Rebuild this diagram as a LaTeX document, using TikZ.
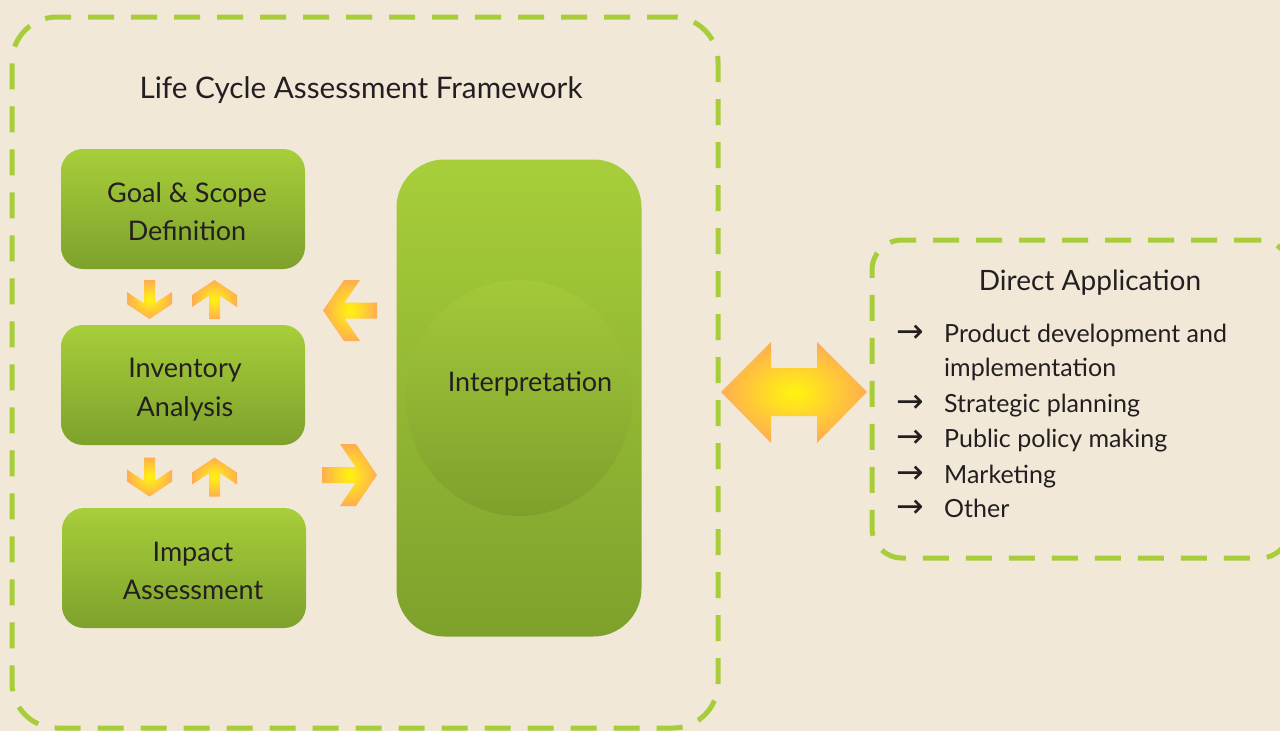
\documentclass[tikz,border=0pt]{standalone}
\usepackage{fontspec}
\setmainfont{Lato}
\newfontfamily\symfont{DejaVu Sans}
\usetikzlibrary{shapes.geometric}
\definecolor{bg}{HTML}{F1E8D8}
\definecolor{dashgreen}{HTML}{A7CE3A}
\definecolor{gtop}{HTML}{A7CE3A}
\definecolor{gbot}{HTML}{7EA12C}
\definecolor{ctop}{HTML}{A3C93A}
\definecolor{cbot}{HTML}{7F9F2C}
\definecolor{txt}{HTML}{231F20}
\definecolor{ayel}{HTML}{FFEF14}
\definecolor{aorg}{HTML}{FFA855}
\pgfdeclareradialshading{glow}{\pgfpoint{0bp}{0bp}}{color(0bp)=(ayel); color(2bp)=(ayel); color(27bp)=(aorg); color(75bp)=(aorg)}
\newcommand\blockarrow[8]{%
  \pgfmathsetmacro\hL{#4/2}%
  \pgfmathsetmacro\hw{#5/2}%
  \pgfmathsetmacro\hs{#6/2}%
  \pgfmathsetmacro\xf{#4/2-#7}%
  \pgfmathsetmacro\xk{#4/2-#7-#8}%
  \pgfmathsetmacro\xb{\xk+(\hw-\hs)*#7/\hw}%
  \begin{scope}[shift={(#1,#2)},rotate=#3]
    \shade[shading=glow] (-\hL,-\hs) -- (\xb,-\hs) -- (\xk,-\hw) -- (\xf,-\hw) -- (\hL,0)
      -- (\xf,\hw) -- (\xk,\hw) -- (\xb,\hs) -- (-\hL,\hs) -- cycle;
  \end{scope}}
\begin{document}
\begin{tikzpicture}[x=1pt,y=-1pt,
  dashbox/.style={draw=dashgreen, line width=5pt, dash pattern=on 26pt off 17pt, rectangle, inner sep=0pt},
  greenbox/.style={rectangle, rounded corners=22pt, top color=gtop, bottom color=gbot, minimum width=244pt, minimum height=120pt, inner sep=0pt},
  boxtext/.style={text=txt, font=\fontsize{27}{32}\selectfont, anchor=base},
  itemtext/.style={text=txt, font=\fontsize{25}{30}\selectfont, anchor=base west, inner sep=0pt},
  itemarrow/.style={text=txt, font=\symfont\fontsize{33}{36}\selectfont, anchor=base west, inner sep=0pt}]
\fill[bg] (0,0) rectangle (1280,731);
\useasboundingbox (0,0) rectangle (1280,731);

% frames
\node[dashbox, rounded corners=45pt, minimum width=706pt, minimum height=711pt] (lca) at (365,372.5) {};
\node[dashbox, rounded corners=30pt, minimum width=418pt, minimum height=318pt] (direct) at (1081,399) {};

\node[text=txt, font=\fontsize{29.7}{36}\selectfont, anchor=base] (title) at (361,98) {Life Cycle Assessment Framework};

% phase boxes
\node[greenbox] (goal) at (183,209) {};
\node[greenbox] (inv) at (183,385) {};
\node[greenbox] (imp) at (184,568) {};
\node[greenbox, rounded corners=48pt, minimum width=245pt, minimum height=477pt] (interp) at (519,398) {};
\node[ellipse, top color=ctop, bottom color=cbot, minimum width=226pt, minimum height=236pt, inner sep=0pt] (circ) at (519,398) {};

\node[boxtext] (goalA) at (187,202) {Goal \& Scope};
\node[boxtext] (goalB) at (187,240) {Definition};
\node[boxtext] (invA) at (185,377) {Inventory};
\node[boxtext] (invB) at (185,416) {Analysis};
\node[boxtext] (impA) at (193,561) {Impact};
\node[boxtext] (impB) at (193,599) {Assessment};
\node[boxtext] (interpT) at (530,391) {Interpretation};

% small arrows
\blockarrow{149.5}{299.5}{-90}{39}{45}{11}{15}{12}
\blockarrow{214.5}{299.5}{90}{39}{45}{11}{15}{12}
\blockarrow{149.5}{477}{-90}{39}{45}{11}{15}{12}
\blockarrow{214.5}{477}{90}{39}{45}{11}{15}{12}
\blockarrow{350}{310.5}{180}{54}{61}{16}{21}{16}
\blockarrow{349.5}{475}{0}{55}{62}{16}{21}{16}

% double arrow
\shade[shading=glow] (721,392) -- (771,342) -- (771,368) -- (817,368) -- (817,342) -- (867,392)
  -- (817,443) -- (817,416) -- (771,416) -- (771,443) -- cycle;

% direct application
\node[text=txt, font=\fontsize{28}{34}\selectfont, anchor=base] (dirT) at (1090,290) {Direct Application};
\node[itemarrow] (a1) at (896,342) {→};
\node[itemtext] (i1) at (944,342) {Product development and};
\node[itemtext] (i1b) at (944,376) {implementation};
\node[itemarrow] (a2) at (896,412) {→};
\node[itemtext] (i2) at (944,412) {Strategic planning};
\node[itemarrow] (a3) at (896,447) {→};
\node[itemtext] (i3) at (944,447) {Public policy making};
\node[itemarrow] (a4) at (896,483) {→};
\node[itemtext] (i4) at (944,483) {Marketing};
\node[itemarrow] (a5) at (896,517) {→};
\node[itemtext] (i5) at (944,517) {Other};
\end{tikzpicture}
\end{document}
